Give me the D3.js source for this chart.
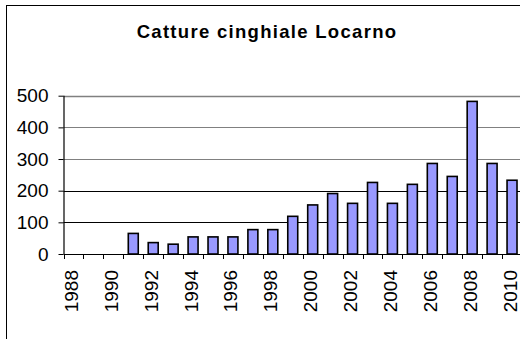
<!DOCTYPE html>
<html>
<head>
<meta charset="utf-8">
<script src="https://cdn.jsdelivr.net/npm/d3@7/dist/d3.min.js"></script>
<style>
  html, body { margin: 0; padding: 0; background: #fff; }
  svg { display: block; }
  text { font-family: "Liberation Sans", Arial, sans-serif; fill: #000; }
</style>
</head>
<body>
<svg id="chart" width="520" height="339"></svg>
<script>
// Annual wild boar captures, Locarno district
const years = ["1988","1989","1990","1991","1992","1993","1994","1995","1996","1997","1998","1999",
               "2000","2001","2002","2003","2004","2005","2006","2007","2008","2009","2010"];
const captures = [0, 0, 0, 65, 36, 31, 54, 54, 54, 77, 77, 119,
                  155, 191, 160, 226, 160, 220, 286, 245, 482, 286, 233];
const yTicks = [0, 100, 200, 300, 400, 500];
const xLabels = ["1988","1990","1992","1994","1996","1998","2000","2002","2004","2006","2008","2010"];
const title = "Catture cinghiale Locarno";

const svg = d3.select("#chart");
const W = 520, H = 339;
const plot = { left: 63.5, right: 522, top: 95.7, bottom: 254 };

svg.append("rect").attr("width", W).attr("height", H).attr("fill", "#fff");

// chart frame (extends past the visible area on the right and bottom)
svg.append("rect")
  .attr("x", 6.5).attr("y", 5.5).attr("width", 560).attr("height", 400)
  .attr("fill", "none").attr("stroke", "#000").attr("stroke-width", 1);

const x = d3.scaleBand().domain(years).range([plot.left, plot.right])
  .paddingInner(0.5).paddingOuter(0.25);
const y = d3.scaleLinear().domain([0, 500]).range([plot.bottom, plot.top]);

// horizontal gridlines
svg.append("g").selectAll("line").data(yTicks.filter(d => d > 0)).join("line")
  .attr("x1", plot.left).attr("x2", W)
  .attr("y1", d => Math.round(y(d)) + 0.5).attr("y2", d => Math.round(y(d)) + 0.5)
  .attr("stroke", d => d >= 300 ? "#808080" : "#000")
  .attr("stroke-width", d => d === 500 ? 1.6 : 1);

// y axis
const yAxis = d3.axisLeft(y).tickValues(yTicks).tickSize(5).tickPadding(10);
const gy = svg.append("g").attr("transform", `translate(${plot.left},0)`).call(yAxis);
gy.select(".domain").remove();
gy.selectAll(".tick line").attr("stroke", "#000");
gy.selectAll(".tick text").attr("font-size", 19).attr("font-family", "Liberation Sans, Arial, sans-serif")
  .attr("fill", "#000");
svg.append("line").attr("x1", plot.left + 0.5).attr("x2", plot.left + 0.5)
  .attr("y1", plot.top).attr("y2", plot.bottom).attr("stroke", "#000").attr("stroke-width", 1.2);

// bars
svg.append("g").selectAll("rect").data(years.map((yr, i) => ({ yr, v: captures[i] })).filter(d => d.v > 0))
  .join("rect")
  .attr("x", d => x(d.yr)).attr("width", x.bandwidth())
  .attr("y", d => y(d.v)).attr("height", d => y(0) - y(d.v))
  .attr("fill", "#9999ff").attr("stroke", "#000").attr("stroke-width", 1.6);

// x axis line and category boundary ticks
const step = x.step();
const x0 = plot.left;
svg.append("line").attr("x1", plot.left).attr("x2", W)
  .attr("y1", plot.bottom + 0.5).attr("y2", plot.bottom + 0.5)
  .attr("stroke", "#000").attr("stroke-width", 1.2);
svg.append("g").selectAll("line").data(d3.range(years.length + 1)).join("line")
  .attr("x1", i => Math.round(x0 + i * step) + 0.5).attr("x2", i => Math.round(x0 + i * step) + 0.5)
  .attr("y1", plot.bottom).attr("y2", plot.bottom + 5)
  .attr("stroke", "#000");

// rotated year labels
svg.append("g").selectAll("text").data(xLabels).join("text")
  .attr("transform", d => `translate(${x(d) + x.bandwidth() / 2 + 4.5},${plot.bottom + 16}) rotate(-90)`)
  .attr("text-anchor", "end").attr("font-size", 19)
  .text(d => d);

// title
svg.append("text")
  .attr("x", 267).attr("y", 38.3).attr("text-anchor", "middle")
  .attr("font-size", 18.5).attr("font-weight", "bold").attr("letter-spacing", 1.3)
  .text(title);
</script>
</body>
</html>
